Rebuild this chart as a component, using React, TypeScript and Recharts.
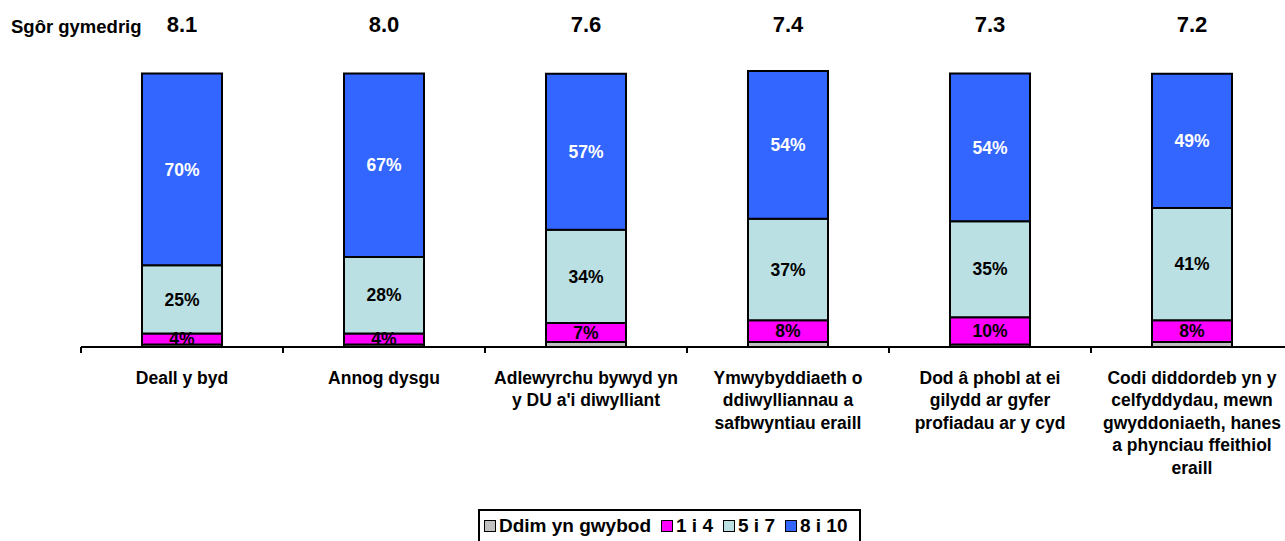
import { BarChart, Bar, XAxis, YAxis, LabelList } from 'recharts';

const categoryLines = [
  ['Deall y byd'],
  ['Annog dysgu'],
  ['Adlewyrchu bywyd yn', "y DU a'i diwylliant"],
  ['Ymwybyddiaeth o', 'ddiwylliannau a', 'safbwyntiau eraill'],
  ['Dod â phobl at ei', 'gilydd ar gyfer', 'profiadau ar y cyd'],
  ['Codi diddordeb yn y', 'celfyddydau, mewn', 'gwyddoniaeth, hanes', 'a phynciau ffeithiol', 'eraill'],
];
const meanScores = ['8.1', '8.0', '7.6', '7.4', '7.3', '7.2'];
const dontKnow = [0.9, 0.9, 1.8, 1.8, 0.9, 1.8];
const score1to4 = [4, 4, 7, 8, 10, 8];
const score5to7 = [25, 28, 34, 37, 35, 41];
const score8to10 = [70, 67, 57, 54, 54, 49];

const legendItems = [
  { label: 'Ddim yn gwybod', color: '#C0C0C0' },
  { label: '1 i 4', color: '#FF00FF' },
  { label: '5 i 7', color: '#BBE0E3' },
  { label: '8 i 10', color: '#3366FF' },
];

const data = categoryLines.map((lines, i) => ({
  name: lines.join(' '),
  mean: meanScores[i],
  dk: dontKnow[i],
  low: score1to4[i],
  mid: score5to7[i],
  high: score8to10[i],
}));

const FONT = '"Liberation Sans", Arial, sans-serif';
const CHART_W = 1293;
const CHART_H = 541;
const MARGIN = { top: 71, right: 0, bottom: 74, left: 81 };
const BAND = (CHART_W - MARGIN.left - MARGIN.right) / categoryLines.length;

const CategoryTick = (props: any) => {
  const { x, y, payload, index } = props;
  const lines = categoryLines[index] ?? [String(payload.value)];
  const half = payload?.offset || BAND / 2;
  return (
    <g>
      <line x1={x - half} x2={x - half} y1={y} y2={y + 6} stroke="#000" strokeWidth={2} />
      <text x={x} y={y + 37} textAnchor="middle" fontFamily={FONT} fontWeight="bold" fontSize={17.5} fill="#000">
        {lines.map((l: string, i: number) => (
          <tspan key={i} x={x} dy={i === 0 ? 0 : 22.4}>{l}</tspan>
        ))}
      </text>
    </g>
  );
};

const MeanLabel = (props: any) => {
  const { x, width, value } = props;
  return (
    <text x={x + width / 2} y={32} textAnchor="middle" fontFamily={FONT} fontWeight="bold" fontSize={22} fill="#000">
      {value}
    </text>
  );
};

const pct = (v: any) => `${Math.round(v)}%`;
const labelStyle = { fontFamily: FONT, fontWeight: 'bold', fontSize: 17.5 };

export default function App() {
  return (
    <div style={{ position: 'absolute', left: 0, top: 0, width: 1285, height: 541, overflow: 'hidden', background: '#fff' }}>
      <div style={{ position: 'absolute', left: 11, top: 16, fontFamily: FONT, fontWeight: 'bold', fontSize: 18.5, lineHeight: 'normal', whiteSpace: 'nowrap' }}>
        Sgôr gymedrig
      </div>
      <BarChart width={CHART_W} height={CHART_H} data={data} margin={MARGIN} barSize={80}>
        <XAxis
          dataKey="name"
          interval={0}
          height={120}
          tickSize={0}
          tickMargin={0}
          tickLine={false}
          axisLine={{ stroke: '#000', strokeWidth: 2 }}
          tick={<CategoryTick />}
        />
        <YAxis hide domain={[0, 100]} />
        <Bar dataKey="dk" stackId="a" fill="#C0C0C0" stroke="#000" strokeWidth={2} isAnimationActive={false} />
        <Bar dataKey="low" stackId="a" fill="#FF00FF" stroke="#000" strokeWidth={2} isAnimationActive={false}>
          <LabelList dataKey="low" position="center" formatter={pct} fill="#000" style={labelStyle} />
        </Bar>
        <Bar dataKey="mid" stackId="a" fill="#BBE0E3" stroke="#000" strokeWidth={2} isAnimationActive={false}>
          <LabelList dataKey="mid" position="center" formatter={pct} fill="#000" style={labelStyle} />
        </Bar>
        <Bar dataKey="high" stackId="a" fill="#3366FF" stroke="#000" strokeWidth={2} isAnimationActive={false}>
          <LabelList dataKey="high" position="center" formatter={pct} fill="#fff" style={labelStyle} />
          <LabelList dataKey="mean" content={<MeanLabel />} />
        </Bar>
      </BarChart>
      <div
        style={{
          position: 'absolute',
          left: 478,
          top: 509,
          width: 383,
          height: 40,
          border: '2px solid #000',
          display: 'flex',
          alignItems: 'flex-start',
          paddingTop: 4,
          paddingLeft: 4,
          boxSizing: 'border-box',
          fontFamily: FONT,
          fontWeight: 'bold',
          fontSize: 19,
          background: '#fff',
        }}
      >
        {legendItems.map((it) => (
          <div key={it.label} style={{ display: 'flex', alignItems: 'center', marginRight: 10 }}>
            <span style={{ display: 'inline-block', width: 10, height: 10, background: it.color, border: '1px solid #000', marginRight: 3 }} />
            <span>{it.label}</span>
          </div>
        ))}
      </div>
    </div>
  );
}
